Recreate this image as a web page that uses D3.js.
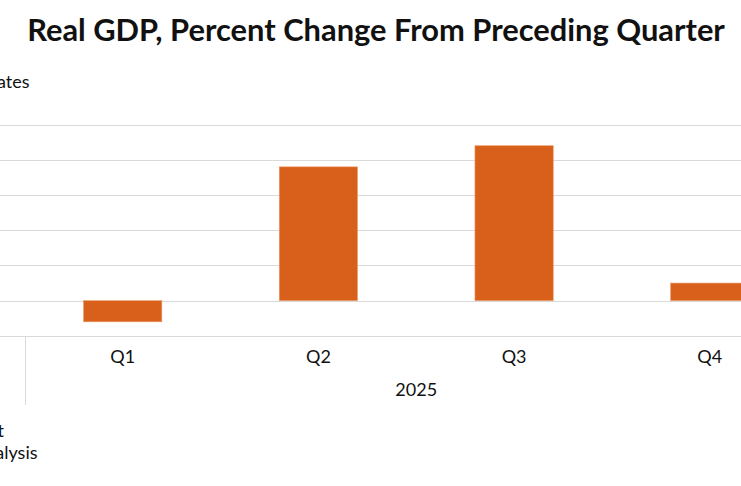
<html>
<head>
<script src="https://cdn.jsdelivr.net/npm/d3@7"></script>
<style>
  body { margin: 0; background: #fff; }
  svg text { font-family: Lato, "Open Sans", sans-serif; fill: #111; }
</style>
</head>
<body>
<svg id="chart" width="741" height="486"></svg>
<script>
// data
var quarters = ["Q1", "Q2", "Q3", "Q4"];
var gdpChange = [-0.6, 3.8, 4.4, 0.5];
var year = "2025";
var yTicks = [-1, 0, 1, 2, 3, 4, 5];

var svg = d3.select("#chart");

// chart is shown cropped: the plot runs past both edges of the window
var groupLeft = 24.85, groupRight = 807.65;
var plotLeft = -800;

var x = d3.scaleBand()
    .domain(quarters)
    .range([groupLeft, groupRight])
    .paddingInner(0.6)
    .paddingOuter(0.3);

var y = d3.scaleLinear()
    .domain([-1, 5])
    .range([335.9, 124.6]);

// gridlines
svg.append("g").selectAll("line")
    .data(yTicks)
    .enter().append("line")
    .attr("x1", plotLeft)
    .attr("x2", groupRight)
    .attr("y1", function(d) { return Math.round(y(d)) + 0.5; })
    .attr("y2", function(d) { return Math.round(y(d)) + 0.5; })
    .attr("stroke", "#d9d9d9")
    .attr("stroke-width", 1);

// bars
svg.append("g").selectAll("rect")
    .data(gdpChange)
    .enter().append("rect")
    .attr("x", function(d, i) { return x(quarters[i]); })
    .attr("width", x.bandwidth())
    .attr("y", function(d) { return y(Math.max(0, d)); })
    .attr("height", function(d) { return Math.abs(y(d) - y(0)); })
    .attr("fill", "#d9601a")
    .attr("stroke", "#ec9a6a")
    .attr("stroke-width", 0.6);

// category labels
var labelY = y(-1) + 27;
svg.append("g").selectAll("text")
    .data(quarters)
    .enter().append("text")
    .attr("x", function(d) { return x(d) + x.bandwidth() / 2; })
    .attr("y", labelY)
    .attr("text-anchor", "middle")
    .attr("font-size", 18)
    .text(function(d) { return d; });

svg.append("text")
    .attr("x", (groupLeft + groupRight) / 2)
    .attr("y", labelY + 33)
    .attr("text-anchor", "middle")
    .attr("font-size", 18)
    .text(year);

// group divider at the left edge of 2025
svg.append("line")
    .attr("x1", Math.round(groupLeft) + 0.5)
    .attr("x2", Math.round(groupLeft) + 0.5)
    .attr("y1", y(-1))
    .attr("y2", y(-1) + 69)
    .attr("stroke", "#d9d9d9");

// title
var title = svg.append("text")
    .attr("x", 376)
    .attr("y", 41)
    .attr("text-anchor", "middle")
    .attr("font-weight", "bold")
    .attr("font-size", 26)
    .text("Real GDP, Percent Change From Preceding Quarter");
var tw = title.node().getComputedTextLength();
title.attr("font-size", 26 * 698 / tw);

// subtitle and notes, mostly cut off on the left
svg.append("text")
    .attr("x", 29.5)
    .attr("y", 88)
    .attr("text-anchor", "end")
    .attr("font-size", 18)
    .text("Seasonally adjusted annual rates");

svg.append("text")
    .attr("x", 4)
    .attr("y", 436.5)
    .attr("text-anchor", "end")
    .attr("font-size", 18)
    .text("Note: annualized change, in percent");

svg.append("text")
    .attr("x", 37.5)
    .attr("y", 458.5)
    .attr("text-anchor", "end")
    .attr("font-size", 18)
    .text("Source: U.S. Bureau of Economic Analysis");
</script>
</body>
</html>
